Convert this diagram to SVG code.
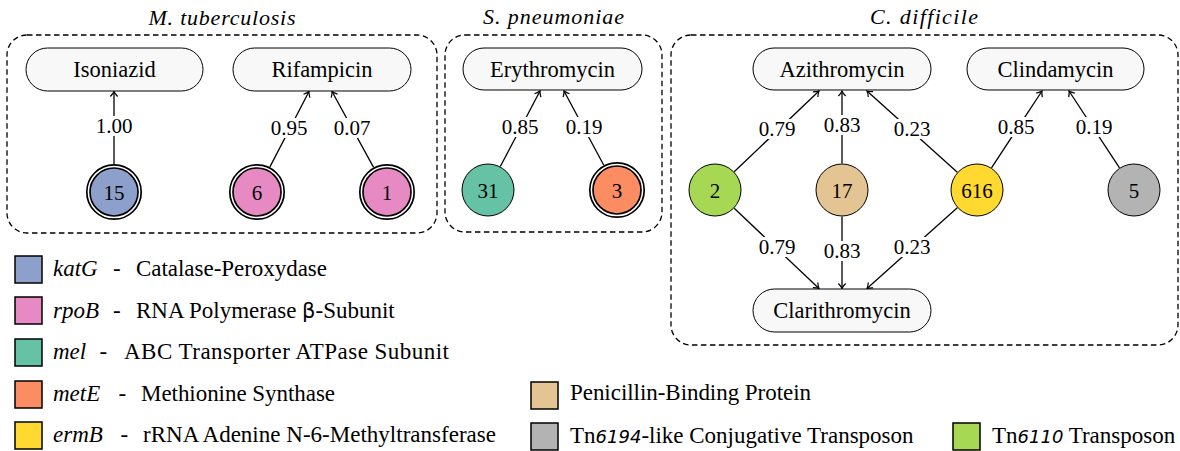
<svg xmlns="http://www.w3.org/2000/svg" width="1180" height="451" viewBox="0 0 1180 451">
<style>
text{font-family:"Liberation Serif","Times New Roman",serif;fill:#000}
.title{font-size:22px;font-style:italic;text-anchor:middle}
.cluster{fill:none;stroke:#000;stroke-width:1.3;stroke-dasharray:5.5 3.5}
.pill{fill:#f8f8f8;stroke:#000;stroke-width:1}
.plabel{font-size:22.5px;text-anchor:middle}
.edge{fill:none;stroke:#000;stroke-width:1.3;marker-end:url(#arr)}
.lbg{fill:#fff}
.elabel{font-size:21px;text-anchor:middle}
.nnum{font-size:21px;text-anchor:middle}
.ring{fill:#fff;stroke:#000;stroke-width:1.7}
.inner{stroke:#000;stroke-width:1.7}
.single{stroke:#000;stroke-width:1}
.sq{stroke:#000;stroke-width:1.5}
.leg{font-size:23px}
.gene{font-style:italic}
.sans{font-family:"DejaVu Sans",sans-serif}
.sansit{font-family:"DejaVu Sans",sans-serif;font-style:italic}
</style>
<defs>
<marker id="arr" viewBox="-6 -5 8 10" refX="0" refY="0" markerWidth="8" markerHeight="10" orient="auto" markerUnits="userSpaceOnUse">
<path d="M-5,-3.6 Q-2,-0.8 0,0 Q-2,0.8 -5,3.6" fill="none" stroke="#000" stroke-width="1.2"/>
</marker>
</defs>

<g id="clusters">
<rect class="cluster" x="7" y="35" width="430" height="198" rx="20"/>
<text class="title" x="222" y="25" textLength="147" lengthAdjust="spacing">M. tuberculosis</text>
<rect class="cluster" x="445" y="35" width="217" height="197" rx="20"/>
<text class="title" x="553.5" y="24" textLength="141" lengthAdjust="spacing">S. pneumoniae</text>
<rect class="cluster" x="671" y="35" width="507" height="310" rx="20"/>
<text class="title" x="924" y="24" textLength="108" lengthAdjust="spacing">C. difficile</text>
</g>

<g id="connectors">
<line class="edge" x1="114" y1="164" x2="114" y2="91.5"/>
<line class="edge" x1="269.8" y1="167.1" x2="309" y2="91.5"/>
<line class="edge" x1="373.6" y1="167.4" x2="332" y2="91.5"/>
<line class="edge" x1="500.3" y1="166.5" x2="540" y2="91"/>
<line class="edge" x1="603.8" y1="165.3" x2="564" y2="91"/>
<line class="edge" x1="734.2" y1="171.7" x2="819" y2="91"/>
<line class="edge" x1="842" y1="163.5" x2="842" y2="91"/>
<line class="edge" x1="957.3" y1="172.3" x2="867" y2="91"/>
<line class="edge" x1="991.5" y1="167.8" x2="1042" y2="91"/>
<line class="edge" x1="1119.5" y1="167.8" x2="1069" y2="91"/>
<line class="edge" x1="734.2" y1="208.3" x2="819" y2="288.5"/>
<line class="edge" x1="842" y1="216.5" x2="842" y2="288.5"/>
<line class="edge" x1="957.3" y1="207.7" x2="867" y2="288.5"/>
<g id="edge-labels">
<rect class="lbg" x="95" y="116" width="38" height="20"/><text class="elabel" x="114" y="133">1.00</text>
<rect class="lbg" x="270" y="118" width="38" height="20"/><text class="elabel" x="289" y="135">0.95</text>
<rect class="lbg" x="333" y="118" width="38" height="20"/><text class="elabel" x="352" y="135">0.07</text>
<rect class="lbg" x="501" y="117" width="38" height="20"/><text class="elabel" x="520" y="134">0.85</text>
<rect class="lbg" x="565" y="117" width="38" height="20"/><text class="elabel" x="584" y="134">0.19</text>
<rect class="lbg" x="758" y="119" width="38" height="20"/><text class="elabel" x="777" y="136">0.79</text>
<rect class="lbg" x="823" y="115" width="38" height="20"/><text class="elabel" x="842" y="132">0.83</text>
<rect class="lbg" x="893" y="119" width="38" height="20"/><text class="elabel" x="912" y="136">0.23</text>
<rect class="lbg" x="997" y="117" width="38" height="20"/><text class="elabel" x="1016" y="134">0.85</text>
<rect class="lbg" x="1075" y="117" width="38" height="20"/><text class="elabel" x="1094" y="134">0.19</text>
<rect class="lbg" x="758" y="237" width="38" height="20"/><text class="elabel" x="777" y="254">0.79</text>
<rect class="lbg" x="823" y="241" width="38" height="20"/><text class="elabel" x="842" y="258">0.83</text>
<rect class="lbg" x="893" y="237" width="38" height="20"/><text class="elabel" x="912" y="254">0.23</text>
</g>
</g>

<g id="node-isoniazid"><rect class="pill" x="26" y="48" width="177" height="43" rx="21.5"/><text class="plabel" x="114.5" y="77">Isoniazid</text></g>
<g id="node-rifampicin"><rect class="pill" x="233" y="48" width="178" height="43" rx="21.5"/><text class="plabel" x="322" y="77">Rifampicin</text></g>
<g id="node-erythromycin"><rect class="pill" x="463" y="48" width="179" height="42" rx="21"/><text class="plabel" x="552.5" y="77">Erythromycin</text></g>
<g id="node-azithromycin"><rect class="pill" x="753" y="48" width="178" height="42" rx="21"/><text class="plabel" x="842" y="77">Azithromycin</text></g>
<g id="node-clindamycin"><rect class="pill" x="967" y="48" width="177" height="42" rx="21"/><text class="plabel" x="1055.5" y="77">Clindamycin</text></g>
<g id="node-clarithromycin"><rect class="pill" x="753" y="289" width="178" height="43" rx="21.5"/><text class="plabel" x="842" y="318">Clarithromycin</text></g>

<g id="node-15"><circle class="ring" cx="114" cy="192" r="27.2"/><circle class="inner" cx="114" cy="192" r="24" fill="#8da0cb"/><text class="nnum" x="114" y="199.5">15</text></g>
<g id="node-6"><circle class="ring" cx="257" cy="192" r="27.2"/><circle class="inner" cx="257" cy="192" r="24" fill="#e78ac3"/><text class="nnum" x="257" y="199.5">6</text></g>
<g id="node-1"><circle class="ring" cx="387" cy="192" r="27.2"/><circle class="inner" cx="387" cy="192" r="24" fill="#e78ac3"/><text class="nnum" x="387" y="199.5">1</text></g>
<g id="node-31"><circle class="single" cx="488" cy="190" r="26" fill="#66c2a5"/><text class="nnum" x="488" y="197.5">31</text></g>
<g id="node-3"><circle class="ring" cx="617" cy="190" r="27.2"/><circle class="inner" cx="617" cy="190" r="24" fill="#fc8d62"/><text class="nnum" x="617" y="197.5">3</text></g>
<g id="node-2"><circle class="single" cx="715" cy="190" r="26" fill="#a6d854"/><text class="nnum" x="715" y="197.5">2</text></g>
<g id="node-17"><circle class="single" cx="842" cy="190" r="26" fill="#e5c494"/><text class="nnum" x="842" y="197.5">17</text></g>
<g id="node-616"><circle class="single" cx="977" cy="190" r="26" fill="#ffd92f"/><text class="nnum" x="977" y="197.5">616</text></g>
<g id="node-5"><circle class="single" cx="1134" cy="190" r="26" fill="#b3b3b3"/><text class="nnum" x="1134" y="197.5">5</text></g>

<g id="legend">
<rect class="sq" x="15" y="256" width="27" height="27" fill="#8da0cb"/>
<text class="leg" x="53" y="276"><tspan class="gene">katG</tspan><tspan x="113">-</tspan></text>
<text class="leg" x="136" y="276" textLength="191" lengthAdjust="spacing">Catalase-Peroxydase</text>

<rect class="sq" x="15" y="297" width="27" height="27" fill="#e78ac3"/>
<text class="leg" x="53" y="318"><tspan class="gene">rpoB</tspan><tspan x="113">-</tspan></text>
<text class="leg" x="136" y="318">RNA Polymerase <tspan class="sans" font-size="21">β</tspan>-Subunit</text>

<rect class="sq" x="15" y="339" width="27" height="27" fill="#66c2a5"/>
<text class="leg" x="53" y="359"><tspan class="gene">mel</tspan><tspan x="99.5">-</tspan></text>
<text class="leg" x="124" y="359" textLength="325" lengthAdjust="spacing">ABC Transporter ATPase Subunit</text>

<rect class="sq" x="15" y="381" width="27" height="27" fill="#fc8d62"/>
<text class="leg" x="53" y="401"><tspan class="gene">metE</tspan><tspan x="118.5">-</tspan></text>
<text class="leg" x="141" y="401" textLength="194" lengthAdjust="spacing">Methionine Synthase</text>

<rect class="sq" x="15" y="422" width="27" height="27" fill="#ffd92f"/>
<text class="leg" x="53" y="442"><tspan class="gene">ermB</tspan><tspan x="120.5">-</tspan></text>
<text class="leg" x="143" y="442" textLength="353" lengthAdjust="spacing">rRNA Adenine N-6-Methyltransferase</text>

<rect class="sq" x="531" y="382" width="27" height="27" fill="#e5c494"/>
<text class="leg" x="570" y="400" textLength="241" lengthAdjust="spacing">Penicillin-Binding Protein</text>

<rect class="sq" x="531" y="423" width="27" height="27" fill="#b3b3b3"/>
<text class="leg" x="570" y="443">Tn<tspan class="sansit" font-size="18">6194</tspan>-like Conjugative Transposon</text>

<rect class="sq" x="953" y="423" width="27" height="27" fill="#a6d854"/>
<text class="leg" x="992" y="443">Tn<tspan class="sansit" font-size="18">6110</tspan> Transposon</text>
</g>
</svg>
